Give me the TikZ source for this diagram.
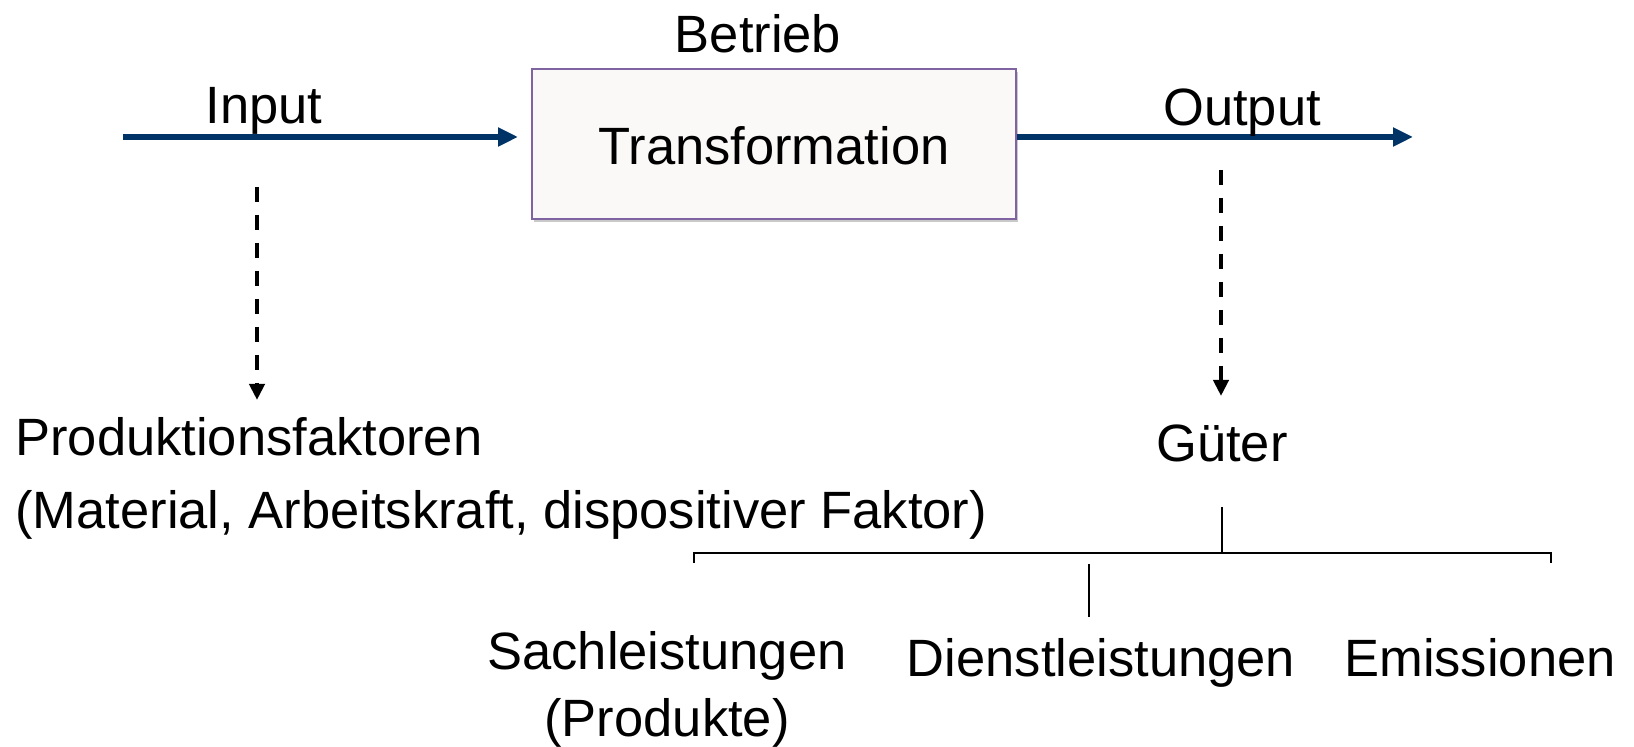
\documentclass[tikz,border=0pt]{standalone}
\usepackage{fontspec}
\setmainfont{Liberation Sans}
\usetikzlibrary{arrows.meta,shadows}
\definecolor{flownavy}{RGB}{0,51,102}
\definecolor{boxline}{RGB}{128,100,162}
\definecolor{boxfill}{RGB}{251,249,248}
\tikzset{
  lbl/.style={inner sep=0pt, font=\fontsize{26.25}{33}\selectfont},
  flow/.style={draw=flownavy, line width=3pt, -{Triangle[length=10pt,width=9pt]}},
  derive/.style={draw=black, line width=2pt, dash pattern=on 7.5pt off 6.5pt, -{Triangle[length=8pt,width=7.5pt]}},
  branch/.style={draw=black, line width=1pt},
  procbox/.style={draw=boxline, line width=1pt, fill=boxfill, minimum width=242pt, minimum height=75pt,
    inner sep=0pt, font=\fontsize{26.25}{33}\selectfont, text height=20.5pt,
    drop shadow={shadow xshift=1pt, shadow yshift=-1.5pt, opacity=0.3, fill=black!70}},
}
\begin{document}
\begin{tikzpicture}[x=0.5pt,y=-0.5pt]
\useasboundingbox (0,0) rectangle (1634,747);

% Betrieb with its transformation box
\node[lbl, anchor=base] (betrieb) at (758,53) {Betrieb};
\node[procbox] (box) at (774,144) {Transformation};

% main flow in and out
\coordinate (inStart) at (123,137);
\coordinate (outEnd) at (1413,137);
\draw[flow, shorten >=6.5pt] (inStart) -- (inStart -| box.west);
\draw[flow] (outEnd -| box.east) -- (outEnd);
\node[lbl, anchor=base] (input) at (264,124) {Input};
\node[lbl, anchor=base] (output) at (1242,126) {Output};

% input side: production factors
\node[lbl, anchor=base west] (faktoren) at (15,456) {Produktionsfaktoren};
\node[lbl, anchor=base west] (faktorliste) at (15,529) {(Material, Arbeitskraft, dispositiver Faktor)};
\coordinate (inDashTop) at (257,187);
\coordinate (inDashEnd) at (257,400);
\draw[derive] (inDashTop) -- (inDashEnd);

% output side: goods
\node[lbl, anchor=base] (gueter) at (1222,462) {Güter};
\coordinate (outDashTop) at (1221,170);
\coordinate (outDashEnd) at (1221,396);
\draw[derive] (outDashTop) -- (outDashEnd);

% breakdown of goods
\coordinate (stem) at (1222,507);
\coordinate (barL) at (694,553);
\coordinate (barR) at (1551,553);
\coordinate (midTop) at (1089,564);
\coordinate (midBot) at (1089,617);
\draw[branch] (stem) -- (stem |- barL);
\draw[branch] ([yshift=-5pt]barL) -- (barL) -- (barR) -- ([yshift=-5pt]barR);
\draw[branch] (midTop) -- (midBot);

\node[lbl, anchor=base] (sach) at (667,670) {Sachleistungen};
\node[lbl, anchor=base] (produkte) at (667,737) {(Produkte)};
\node[lbl, anchor=base] (dienst) at (1101,677) {Dienstleistungen};
\node[lbl, anchor=base] (emission) at (1480,677) {Emissionen};
\end{tikzpicture}
\end{document}
